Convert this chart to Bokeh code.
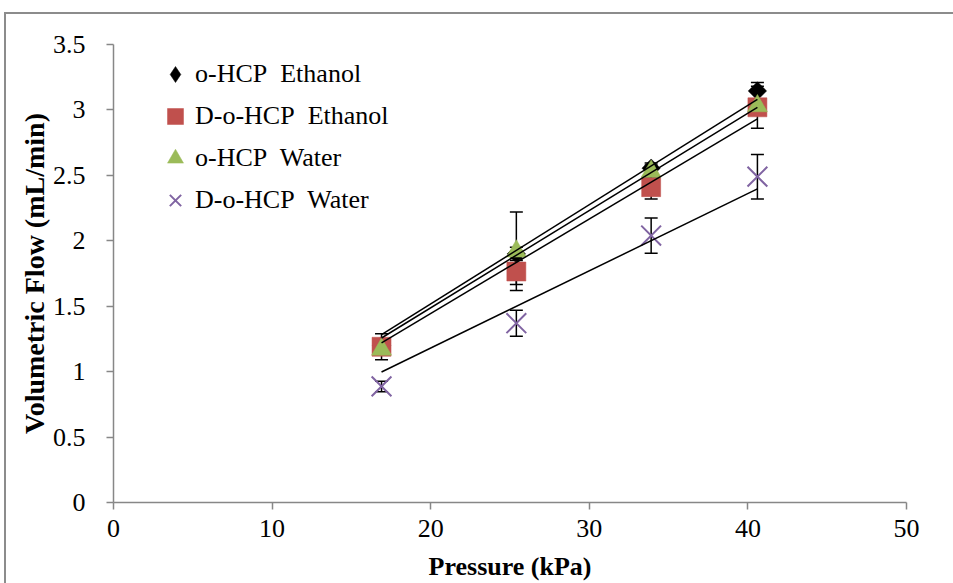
import numpy as np
from bokeh.plotting import figure
from bokeh.models import ColumnDataSource, Whisker, TeeHead, Legend, LegendItem, FixedTicker
from bokeh.embed import file_html
from bokeh.resources import INLINE

# ---- data ----
pressure = [16.9, 25.4, 33.9, 40.6]
series_names = ["o-HCP\u00a0 Ethanol", "D-o-HCP\u00a0 Ethanol", "o-HCP\u00a0 Water", "D-o-HCP\u00a0 Water"]
ohcp_ethanol = [1.20, 1.90, 2.555, 3.145]
dohcp_ethanol = [1.19, 1.765, 2.41, 3.02]
ohcp_water = [1.17, 1.92, 2.53, 3.03]
dohcp_water = [0.887, 1.37, 2.04, 2.49]
err_ohcp_ethanol = [0.03, 0.05, 0.04, 0.065]
err_dohcp_ethanol = [0.10, 0.10, 0.09, 0.16]
err_ohcp_water = [0.03, 0.30, 0.05, 0.05]
err_dohcp_water = [0.04, 0.10, 0.135, 0.17]
x_ticks = [0, 10, 20, 30, 40, 50]
y_ticks = [0, 0.5, 1, 1.5, 2, 2.5, 3, 3.5]

FONT = "Liberation Serif"

p = figure(width=953, height=583, output_backend="svg", toolbar_location=None,
           x_range=(0, 50), y_range=(0, 3.5),
           min_border_left=113, min_border_right=47, min_border_top=44, min_border_bottom=80)
# chart-area border (left and top edges visible), drawn behind a transparent canvas
p.styles = {"box-shadow": "inset 4px 12px 0 0 #ffffff, inset 6px 14px 0 0 #8c8c8c",
            "background-color": "#ffffff"}
p.border_fill_alpha = 0
p.outline_line_color = None
p.xgrid.visible = False
p.ygrid.visible = False
p.background_fill_color = "white"

for ax in (p.xaxis[0], p.yaxis[0]):
    ax.axis_line_color = "#878787"
    ax.axis_line_width = 1.5
    ax.major_tick_line_color = "#878787"
    ax.major_tick_line_width = 1.5
    ax.major_tick_in = 0
    ax.major_tick_out = 7
    ax.minor_tick_line_color = None
    ax.major_label_text_font = FONT
    ax.major_label_text_font_size = "26px"
    ax.major_label_text_color = "black"
    ax.axis_label_text_font = FONT
    ax.axis_label_text_font_style = "bold"
    ax.axis_label_text_color = "black"

p.xaxis.axis_label_text_font_size = "26px"
p.yaxis.axis_label_text_font_size = "28px"
p.xaxis.ticker = FixedTicker(ticks=x_ticks)
p.yaxis.ticker = FixedTicker(ticks=y_ticks)
p.yaxis.major_label_overrides = {v: (str(v) if v != int(v) else str(int(v))) for v in y_ticks}
p.xaxis.axis_label = "Pressure (kPa)"
p.yaxis.axis_label = "Volumetric Flow (mL/min)"
p.xaxis.major_label_standoff = 10
p.yaxis.major_label_standoff = 21
p.xaxis.axis_label_standoff = 12
p.yaxis.axis_label_standoff = 0

all_y = [ohcp_ethanol, dohcp_ethanol, ohcp_water, dohcp_water]
all_err = [err_ohcp_ethanol, err_dohcp_ethanol, err_ohcp_water, err_dohcp_water]
markers = ["square", "square", "triangle", "x"]
angles = [np.pi / 4, 0, 0, 0]
sizes = [13, 19, 20, 28]
fills = ["black", "#C0504D", "#9BBB59", None]
lines = ["black", "#C0504D", "#9BBB59", "#8064A2"]
legend_markers = ["diamond", "square", "triangle", "x"]

renderers = []
legend_renderers = []
for ys, mk, lmk, ang, sz, fc, lc in zip(all_y, markers, legend_markers, angles, sizes, fills, lines):
    src = ColumnDataSource(dict(x=pressure, y=ys))
    lw = 2 if mk == "x" else 0.5
    r = p.scatter("x", "y", source=src, marker=mk, angle=ang, size=sz,
                  fill_color=fc, line_color=lc, line_width=lw)
    renderers.append(r)
    # renderer used only for the legend swatch (not drawn in the plot)
    lr = p.scatter("x", "y", source=src, marker=lmk, size=sz,
                   fill_color=fc, line_color=lc, line_width=lw, visible=False)
    legend_renderers.append(lr)

# error bars
for ys, es in zip(all_y, all_err):
    src = ColumnDataSource(dict(x=pressure, upper=[a + b for a, b in zip(ys, es)],
                                lower=[a - b for a, b in zip(ys, es)]))
    w = Whisker(base="x", upper="upper", lower="lower", source=src,
                line_color="black", line_width=1.5,
                upper_head=TeeHead(size=13, line_color="black", line_width=1.5),
                lower_head=TeeHead(size=13, line_color="black", line_width=1.5))
    p.add_layout(w)

# linear trendlines through the origin
px = np.array(pressure)
for ys in all_y:
    yy = np.array(ys)
    slope = float((px * yy).sum() / (px * px).sum())
    xs = [px.min(), px.max()]
    p.line(xs, [slope * xs[0], slope * xs[1]], line_color="black", line_width=1.5)

legend = Legend(items=[LegendItem(label=n, renderers=[r]) for n, r in zip(series_names, legend_renderers)],
                location=(42, 282))
legend.border_line_color = None
legend.background_fill_alpha = 0
legend.padding = 0
legend.margin = 0
legend.spacing = 2
legend.glyph_width = 40
legend.glyph_height = 40
legend.label_height = 40
legend.label_standoff = 0
legend.label_text_font = FONT
legend.label_text_font_size = "26px"
legend.label_text_color = "black"
p.add_layout(legend)

html = file_html(p, INLINE)
html = html.replace("</head>", "<style>html,body{overflow:hidden;margin:0;}</style></head>", 1)
open("out.html", "w").write(html)
